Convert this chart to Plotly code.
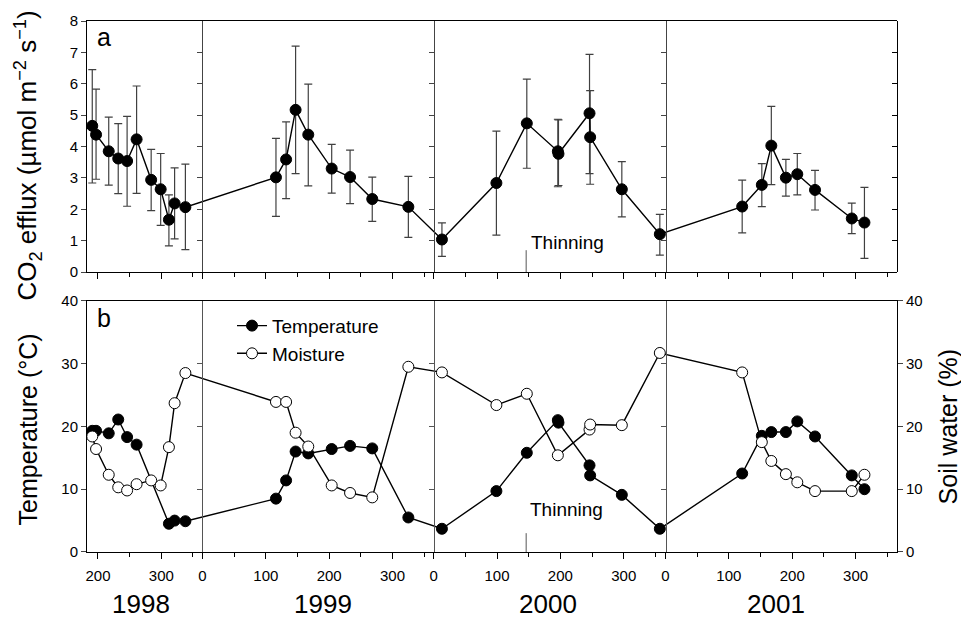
import plotly.graph_objects as go

# ---------------- data ----------------
# days are day-of-year within each year
YEARS = [1998, 1999, 2000, 2001]
YEAR_START = {1998: -365, 1999: 0, 2000: 365, 2001: 731}  # days relative to 1 Jan 1999

co2_days = {
    1998: [191, 197, 217, 232, 246, 261, 284, 299, 312, 321, 338],
    1999: [116, 132, 147, 167, 204, 233, 268, 325],
    2000: [13, 99, 147, 196, 197, 246, 247, 297, 357],
    2001: [121, 152, 167, 190, 208, 236, 294, 314],
}
co2_vals = {
    1998: [4.66, 4.38, 3.85, 3.62, 3.54, 4.23, 2.94, 2.64, 1.67, 2.19, 2.07],
    1999: [3.02, 3.59, 5.17, 4.38, 3.30, 3.03, 2.33, 2.08],
    2000: [1.04, 2.84, 4.74, 3.85, 3.77, 5.06, 4.30, 2.64, 1.21],
    2001: [2.09, 2.78, 4.03, 3.01, 3.12, 2.62, 1.71, 1.58],
}
co2_hi = {
    1998: [6.45, 5.83, 4.94, 4.73, 4.96, 5.93, 3.91, 3.78, 2.46, 3.32, 3.44],
    1999: [4.26, 4.79, 7.20, 5.99, 4.07, 3.89, 3.03, 3.05],
    2000: [1.57, 4.49, 6.15, 4.87, 4.85, 6.94, 5.78, 3.52, 1.84],
    2001: [2.93, 3.46, 5.28, 3.59, 3.78, 3.24, 2.20, 2.70],
}
co2_lo = {
    1998: [2.84, 2.96, 2.77, 2.50, 2.10, 2.51, 1.96, 1.49, 0.84, 1.06, 0.72],
    1999: [1.78, 2.34, 3.14, 2.75, 2.52, 2.18, 1.62, 1.11],
    2000: [0.50, 1.18, 3.31, 2.72, 2.76, 3.14, 2.80, 1.76, 0.54],
    2001: [1.25, 2.09, 2.79, 2.42, 2.46, 1.98, 1.23, 0.44],
}

temp_days = {
    1998: [191, 197, 217, 232, 246, 261, 312, 321, 338],
    1999: [116, 132, 147, 167, 204, 233, 268, 325],
    2000: [13, 99, 147, 196, 197, 246, 247, 297, 357],
    2001: [121, 152, 167, 190, 208, 236, 294, 314],
}
temp_vals = {
    1998: [19.3, 19.3, 18.9, 21.1, 18.3, 17.1, 4.5, 5.0, 4.9],
    1999: [8.5, 11.4, 16.0, 15.7, 16.4, 16.9, 16.5, 5.5],
    2000: [3.7, 9.7, 15.8, 21.0, 20.6, 13.8, 12.2, 9.1, 3.7],
    2001: [12.5, 18.5, 19.1, 19.1, 20.8, 18.4, 12.2, 10.0],
}

moist_days = {
    1998: [191, 197, 217, 232, 246, 261, 284, 299, 312, 321, 338],
    1999: [116, 132, 147, 167, 204, 233, 268, 325],
    2000: [13, 99, 147, 196, 246, 247, 297, 357],
    2001: [121, 152, 167, 190, 208, 236, 294, 314],
}
moist_vals = {
    1998: [18.4, 16.4, 12.3, 10.3, 9.8, 10.8, 11.4, 10.6, 16.7, 23.7, 28.5],
    1999: [23.9, 23.9, 19.0, 16.8, 10.6, 9.4, 8.7, 29.5],
    2000: [28.6, 23.4, 25.2, 15.4, 19.5, 20.3, 20.2, 31.7],
    2001: [28.6, 17.5, 14.5, 12.4, 11.1, 9.7, 9.7, 12.3],
}

major_tick_days = {1998: [200, 300], 1999: [0, 100, 200, 300],
                   2000: [0, 100, 200, 300], 2001: [0, 100, 200, 300]}
minor_tick_days = {1998: [250, 350], 1999: [50, 150, 250, 350],
                   2000: [50, 150, 250, 350], 2001: [50, 150, 250, 350]}
year_labels = ["1998", "1999", "2000", "2001"]
YEAR_LABEL_DAY = {1998: 268, 1999: 190, 2000: 181, 2001: 174}
THINNING_YEAR, THINNING_DAY = 2000, 146

co2_ticks = [0, 1, 2, 3, 4, 5, 6, 7, 8]
tw_ticks = [0, 10, 20, 30, 40]

# ---------------- helpers ----------------
def gx(year, days):
    return [YEAR_START[year] + d for d in days]

def concat(dct_days, dct_vals):
    xs, ys = [], []
    for y in YEARS:
        xs += gx(y, dct_days[y])
        ys += dct_vals[y]
    return xs, ys

X_MIN, X_MAX = -182.3, 1096.4
FONT = "Liberation Sans, Arial, sans-serif"
W, H = 961, 620
ML, MR, MT, MB = 87, 64, 15, 68
plot_h = H - MT - MB

def py(px):  # pixel y -> paper y
    return (H - MB - px) / plot_h

def px_x(px):
    return (px - ML) / (W - ML - MR)

TOP_DOM = [py(269), 1.0]
BOT_DOM = [0.0, py(298)]

fig = go.Figure()

# CO2 efflux
cx, cy = concat(co2_days, co2_vals)
_, chi = concat(co2_days, co2_hi)
_, clo = concat(co2_days, co2_lo)
fig.add_trace(go.Scatter(
    x=cx, y=cy, mode="lines+markers", xaxis="x", yaxis="y", showlegend=False,
    line=dict(color="black", width=1.4),
    marker=dict(symbol="circle", size=11, color="black", line=dict(color="black", width=1)),
    error_y=dict(type="data", array=[h - v for h, v in zip(chi, cy)],
                 arrayminus=[v - l for v, l in zip(cy, clo)],
                 color="#404040", thickness=1.2, width=4),
))

# Temperature
tx, ty = concat(temp_days, temp_vals)
fig.add_trace(go.Scatter(
    x=tx, y=ty, mode="lines+markers", name="Temperature", xaxis="x2", yaxis="y2",
    line=dict(color="black", width=1.4),
    marker=dict(symbol="circle", size=11, color="black", line=dict(color="black", width=1)),
))
# Moisture
mx, my = concat(moist_days, moist_vals)
fig.add_trace(go.Scatter(
    x=mx, y=my, mode="lines+markers", name="Moisture", xaxis="x2", yaxis="y3",
    line=dict(color="black", width=1.4),
    marker=dict(symbol="circle", size=11, color="white", line=dict(color="black", width=1)),
))

# x ticks
maj_vals, maj_text, min_vals = [], [], []
for y in YEARS:
    maj_vals += gx(y, major_tick_days[y])
    maj_text += [str(d) for d in major_tick_days[y]]
    min_vals += gx(y, minor_tick_days[y])

xcommon = dict(range=[X_MIN, X_MAX], domain=[0, 1], showline=True, linecolor="black",
               linewidth=1, mirror=True, ticks="outside", ticklen=6, tickcolor="black",
               tickvals=maj_vals, ticktext=maj_text, showgrid=False, zeroline=False,
               minor=dict(tickvals=min_vals, ticks="outside", ticklen=4, tickcolor="black",
                          showgrid=False),
               tickfont=dict(family=FONT, size=15, color="black"))

layout = dict(
    width=W, height=H, margin=dict(l=ML, r=MR, t=MT, b=MB),
    paper_bgcolor="white", plot_bgcolor="white",
    font=dict(family=FONT, color="black"),
    xaxis=dict(xcommon, anchor="y", showticklabels=False),
    xaxis2=dict(xcommon, anchor="y2", showticklabels=True, ticklabelstandoff=4),
    yaxis=dict(domain=TOP_DOM, range=[0, 8], tickvals=co2_ticks, ticks="outside", ticklen=5,
               showline=True, linecolor="black", showgrid=False, zeroline=False, anchor="x",
               tickfont=dict(family=FONT, size=15, color="black")),
    yaxis2=dict(domain=BOT_DOM, range=[0, 40], tickvals=tw_ticks, ticks="outside", ticklen=5,
                showline=True, linecolor="black", showgrid=False, zeroline=False, anchor="x2",
                tickfont=dict(family=FONT, size=15, color="black")),
    yaxis3=dict(overlaying="y2", side="right", anchor="x2", range=[0, 40], tickvals=tw_ticks,
                ticks="outside", ticklen=5, showline=True, linecolor="black", showgrid=False,
                zeroline=False, tickfont=dict(family=FONT, size=15, color="black")),
    legend=dict(x=px_x(232), y=py(304), xanchor="left", yanchor="top",
                font=dict(family=FONT, size=19, color="black"), bgcolor="rgba(0,0,0,0)",
                itemwidth=30, tracegroupgap=0),
    showlegend=True,
)

# year-boundary lines with inward ticks (overlay axes)
n = 4
def frac(xv):
    return (xv - X_MIN) / (X_MAX - X_MIN)

boundaries = [YEAR_START[1999], YEAR_START[2000], YEAR_START[2001]]
extra = []
for b in boundaries:
    extra.append(("y", [0, 8], co2_ticks, frac(b), "#444"))
    extra.append(("y2", [0, 40], tw_ticks, frac(b), "#555"))
extra.append(("y", [0, 8], co2_ticks, 1.0, "black"))
for i, (ov, rng, tv, pos, col) in enumerate(extra):
    name = "yaxis%d" % n
    layout[name] = dict(overlaying=ov, anchor="free", position=pos, side="right",
                        range=rng, tickvals=tv, ticks="inside", ticklen=5, tickcolor=col,
                        showticklabels=False, showline=True, linecolor=col, linewidth=1,
                        showgrid=False, zeroline=False)
    fig.add_trace(go.Scatter(x=[], y=[], xaxis="x" if ov == "y" else "x2",
                             yaxis="y%d" % n, showlegend=False, hoverinfo="skip"))
    n += 1

fig.update_layout(**layout)

# thinning markers
thin_x = YEAR_START[THINNING_YEAR] + THINNING_DAY
fig.add_shape(type="line", xref="x", yref="y", x0=thin_x, x1=thin_x, y0=0, y1=0.7,
              line=dict(color="#555", width=1))
fig.add_shape(type="line", xref="x2", yref="y2", x0=thin_x, x1=thin_x, y0=0, y1=3,
              line=dict(color="#555", width=1))
fig.add_annotation(x=thin_x, y=0.96, xref="x", yref="y", text="Thinning", showarrow=False,
                   xanchor="left", yanchor="middle", xshift=3,
                   font=dict(family=FONT, size=19, color="black"))
fig.add_annotation(x=thin_x, y=6.7, xref="x2", yref="y2", text="Thinning", showarrow=False,
                   xanchor="left", yanchor="middle", xshift=2,
                   font=dict(family=FONT, size=19, color="black"))

# panel letters
fig.add_annotation(x=px_x(104), y=py(47), xref="paper", yref="paper", text="a",
                   showarrow=False, xanchor="center", yanchor="bottom",
                   font=dict(family=FONT, size=25, color="black"))
fig.add_annotation(x=px_x(104), y=py(332), xref="paper", yref="paper", text="b",
                   showarrow=False, xanchor="center", yanchor="bottom",
                   font=dict(family=FONT, size=25, color="black"))

# axis titles
fig.add_annotation(x=px_x(28), y=py(151), xref="paper", yref="paper",
                   text="CO<sub>2</sub> efflux (µmol m<sup>−2</sup> s<sup>−1</sup>)",
                   textangle=-90, showarrow=False, xanchor="center", yanchor="middle",
                   font=dict(family=FONT, size=26, color="black"))
fig.add_annotation(x=px_x(28), y=py(428), xref="paper", yref="paper",
                   text="Temperature (°C)", textangle=-90, showarrow=False,
                   xanchor="center", yanchor="middle",
                   font=dict(family=FONT, size=25, color="black"))
fig.add_annotation(x=px_x(948), y=py(425), xref="paper", yref="paper",
                   text="Soil water (%)", textangle=-90, showarrow=False,
                   xanchor="center", yanchor="middle",
                   font=dict(family=FONT, size=25, color="black"))

# year labels
for y, lab in zip(YEARS, year_labels):
    fig.add_annotation(x=YEAR_START[y] + YEAR_LABEL_DAY[y], y=py(605), xref="x2", yref="paper",
                       text=lab, showarrow=False, xanchor="center", yanchor="middle",
                       font=dict(family=FONT, size=26, color="black"))

fig.write_html("out.html")
